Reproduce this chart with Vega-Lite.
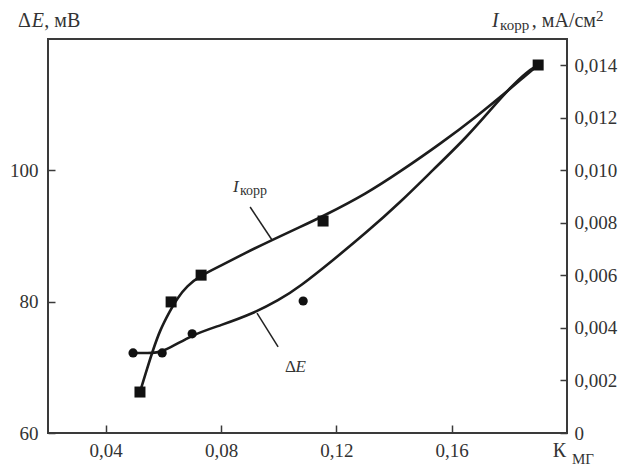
{
  "$schema": "https://vega.github.io/schema/vega-lite/v6.json",
  "width": 519,
  "height": 394,
  "autosize": {"type": "none"},
  "padding": {"left": 48, "top": 39, "right": 57, "bottom": 35},
  "background": "white",
  "config": {
    "view": {"stroke": "#3a3a3a", "strokeWidth": 2},
    "font": "Liberation Serif",
    "axis": {
      "grid": false,
      "domain": false,
      "tickColor": "#3a3a3a",
      "tickWidth": 1.5,
      "labelFont": "Liberation Serif",
      "labelFontSize": 19,
      "labelColor": "#333333",
      "title": null
    }
  },
  "datasets": {
    "dE_pts": [
      {"K": 0.0495, "dE": 72.2},
      {"K": 0.0596, "dE": 72.2},
      {"K": 0.0700, "dE": 75.1},
      {"K": 0.1085, "dE": 80.1}
    ],
    "dE_curve": [
      {"K": 0.0495, "dE": 72.18},
      {"K": 0.0545, "dE": 72.18},
      {"K": 0.0596, "dE": 72.18},
      {"K": 0.0700, "dE": 75.00},
      {"K": 0.0800, "dE": 76.40},
      {"K": 0.0911, "dE": 78.20},
      {"K": 0.1000, "dE": 80.20},
      {"K": 0.1074, "dE": 82.30},
      {"K": 0.1188, "dE": 86.30},
      {"K": 0.1306, "dE": 90.60},
      {"K": 0.1421, "dE": 95.10},
      {"K": 0.1535, "dE": 100.05},
      {"K": 0.1653, "dE": 105.08},
      {"K": 0.1743, "dE": 109.64},
      {"K": 0.1802, "dE": 112.54},
      {"K": 0.1860, "dE": 115.00},
      {"K": 0.1900, "dE": 116.04}
    ],
    "I_pts": [
      {"K": 0.0519, "I": 0.00156},
      {"K": 0.0627, "I": 0.00499},
      {"K": 0.0731, "I": 0.00601},
      {"K": 0.1154, "I": 0.00807},
      {"K": 0.1900, "I": 0.01401}
    ],
    "I_curve": [
      {"K": 0.0519, "I": 0.00156},
      {"K": 0.0545, "I": 0.00250},
      {"K": 0.0564, "I": 0.00315},
      {"K": 0.0588, "I": 0.00391},
      {"K": 0.0623, "I": 0.00465},
      {"K": 0.0647, "I": 0.00511},
      {"K": 0.0682, "I": 0.00560},
      {"K": 0.0727, "I": 0.00598},
      {"K": 0.0797, "I": 0.00636},
      {"K": 0.0880, "I": 0.00683},
      {"K": 0.0977, "I": 0.00735},
      {"K": 0.1074, "I": 0.00784},
      {"K": 0.1154, "I": 0.00825},
      {"K": 0.1306, "I": 0.00912},
      {"K": 0.1421, "I": 0.00995},
      {"K": 0.1560, "I": 0.01100},
      {"K": 0.1698, "I": 0.01215},
      {"K": 0.1792, "I": 0.01300},
      {"K": 0.1850, "I": 0.01355},
      {"K": 0.1900, "I": 0.01401}
    ],
    "texts": [
      {"K": 0.0096, "dE": 121.83, "t": "Δ", "role": "title"},
      {"K": 0.0144, "dE": 121.83, "t": "E", "role": "titleItalic"},
      {"K": 0.0187, "dE": 121.83, "t": ", мВ", "role": "title"},
      {"K": 0.1740, "dE": 121.83, "t": "I", "role": "titleItalic"},
      {"K": 0.1768, "dE": 121.37, "t": "корр", "role": "titleSub"},
      {"K": 0.1878, "dE": 121.83, "t": ", мА/см", "role": "title"},
      {"K": 0.2101, "dE": 122.74, "t": "2", "role": "titleSub"},
      {"K": 0.1951, "dE": 56.35, "t": "К", "role": "title"},
      {"K": 0.2017, "dE": 55.28, "t": "МГ", "role": "titleSub"},
      {"K": 0.0842, "dE": 96.70, "t": "I", "role": "annItalic"},
      {"K": 0.0866, "dE": 96.24, "t": "корр", "role": "annSub"},
      {"K": 0.1022, "dE": 69.29, "t": "Δ", "role": "ann"},
      {"K": 0.1058, "dE": 69.29, "t": "E", "role": "annItalic"}
    ],
    "leaders": [
      {"K": 0.0901, "dE": 94.42, "K2": 0.0977, "dE2": 89.39},
      {"K": 0.0925, "dE": 78.27, "K2": 0.0998, "dE2": 73.10}
    ]
  },
  "layer": [
    {
      "encoding": {
        "x": {
          "field": "K", "type": "quantitative",
          "scale": {"domain": [0.02, 0.2], "nice": false, "zero": false},
          "axis": {
            "values": [0.04, 0.08, 0.12, 0.16],
            "labelExpr": "replace(format(datum.value, '.2f'), '.', ',')",
            "tickSize": -8,
            "labelPadding": 16
          }
        },
        "y": {
          "field": "dE", "type": "quantitative",
          "scale": {"domain": [60, 120], "nice": false, "zero": false},
          "axis": {
            "orient": "left",
            "values": [60, 80, 100],
            "tickSize": -7,
            "labelPadding": 17
          }
        }
      },
      "layer": [
        {
          "data": {"name": "dE_curve"},
          "mark": {"type": "line", "interpolate": "basis", "color": "#1c1c1c", "strokeWidth": 2.6}
        },
        {
          "data": {"name": "dE_pts"},
          "mark": {"type": "point", "shape": "circle", "filled": true, "opacity": 1, "color": "#111111", "size": 85}
        },
        {
          "data": {"name": "leaders"},
          "mark": {"type": "rule", "color": "#222222", "strokeWidth": 1.5},
          "encoding": {
            "x2": {"field": "K2"},
            "y2": {"field": "dE2"}
          }
        },
        {
          "data": {"name": "texts"},
          "transform": [{"filter": "datum.role == 'title'"}],
          "mark": {"type": "text", "align": "left", "baseline": "alphabetic", "fontSize": 20, "color": "#333333", "font": "Liberation Serif"},
          "encoding": {"text": {"field": "t"}}
        },
        {
          "data": {"name": "texts"},
          "transform": [{"filter": "datum.role == 'titleItalic'"}],
          "mark": {"type": "text", "align": "left", "baseline": "alphabetic", "fontSize": 20, "fontStyle": "italic", "color": "#333333", "font": "Liberation Serif"},
          "encoding": {"text": {"field": "t"}}
        },
        {
          "data": {"name": "texts"},
          "transform": [{"filter": "datum.role == 'titleSub'"}],
          "mark": {"type": "text", "align": "left", "baseline": "alphabetic", "fontSize": 15, "color": "#333333", "font": "Liberation Serif"},
          "encoding": {"text": {"field": "t"}}
        },
        {
          "data": {"name": "texts"},
          "transform": [{"filter": "datum.role == 'ann'"}],
          "mark": {"type": "text", "align": "left", "baseline": "alphabetic", "fontSize": 17, "color": "#333333", "font": "Liberation Serif"},
          "encoding": {"text": {"field": "t"}}
        },
        {
          "data": {"name": "texts"},
          "transform": [{"filter": "datum.role == 'annItalic'"}],
          "mark": {"type": "text", "align": "left", "baseline": "alphabetic", "fontSize": 17, "fontStyle": "italic", "color": "#333333", "font": "Liberation Serif"},
          "encoding": {"text": {"field": "t"}}
        },
        {
          "data": {"name": "texts"},
          "transform": [{"filter": "datum.role == 'annSub'"}],
          "mark": {"type": "text", "align": "left", "baseline": "alphabetic", "fontSize": 14, "color": "#333333", "font": "Liberation Serif"},
          "encoding": {"text": {"field": "t"}}
        }
      ]
    },
    {
      "encoding": {
        "x": {
          "field": "K", "type": "quantitative",
          "scale": {"domain": [0.02, 0.2], "nice": false, "zero": false}
        },
        "y": {
          "field": "I", "type": "quantitative",
          "scale": {"domain": [0, 0.015], "nice": false, "zero": false},
          "axis": {
            "orient": "right",
            "values": [0, 0.002, 0.004, 0.006, 0.008, 0.010, 0.012, 0.014],
            "labelExpr": "datum.value == 0 ? '0' : replace(format(datum.value, '.3f'), '.', ',')",
            "tickSize": -7,
            "labelPadding": 14
          }
        }
      },
      "layer": [
        {
          "data": {"name": "I_curve"},
          "mark": {"type": "line", "interpolate": "basis", "color": "#1c1c1c", "strokeWidth": 2.6}
        },
        {
          "data": {"name": "I_pts"},
          "mark": {"type": "point", "shape": "square", "filled": true, "opacity": 1, "color": "#111111", "size": 121}
        }
      ]
    }
  ],
  "resolve": {"scale": {"y": "independent"}, "axis": {"y": "independent"}}
}
